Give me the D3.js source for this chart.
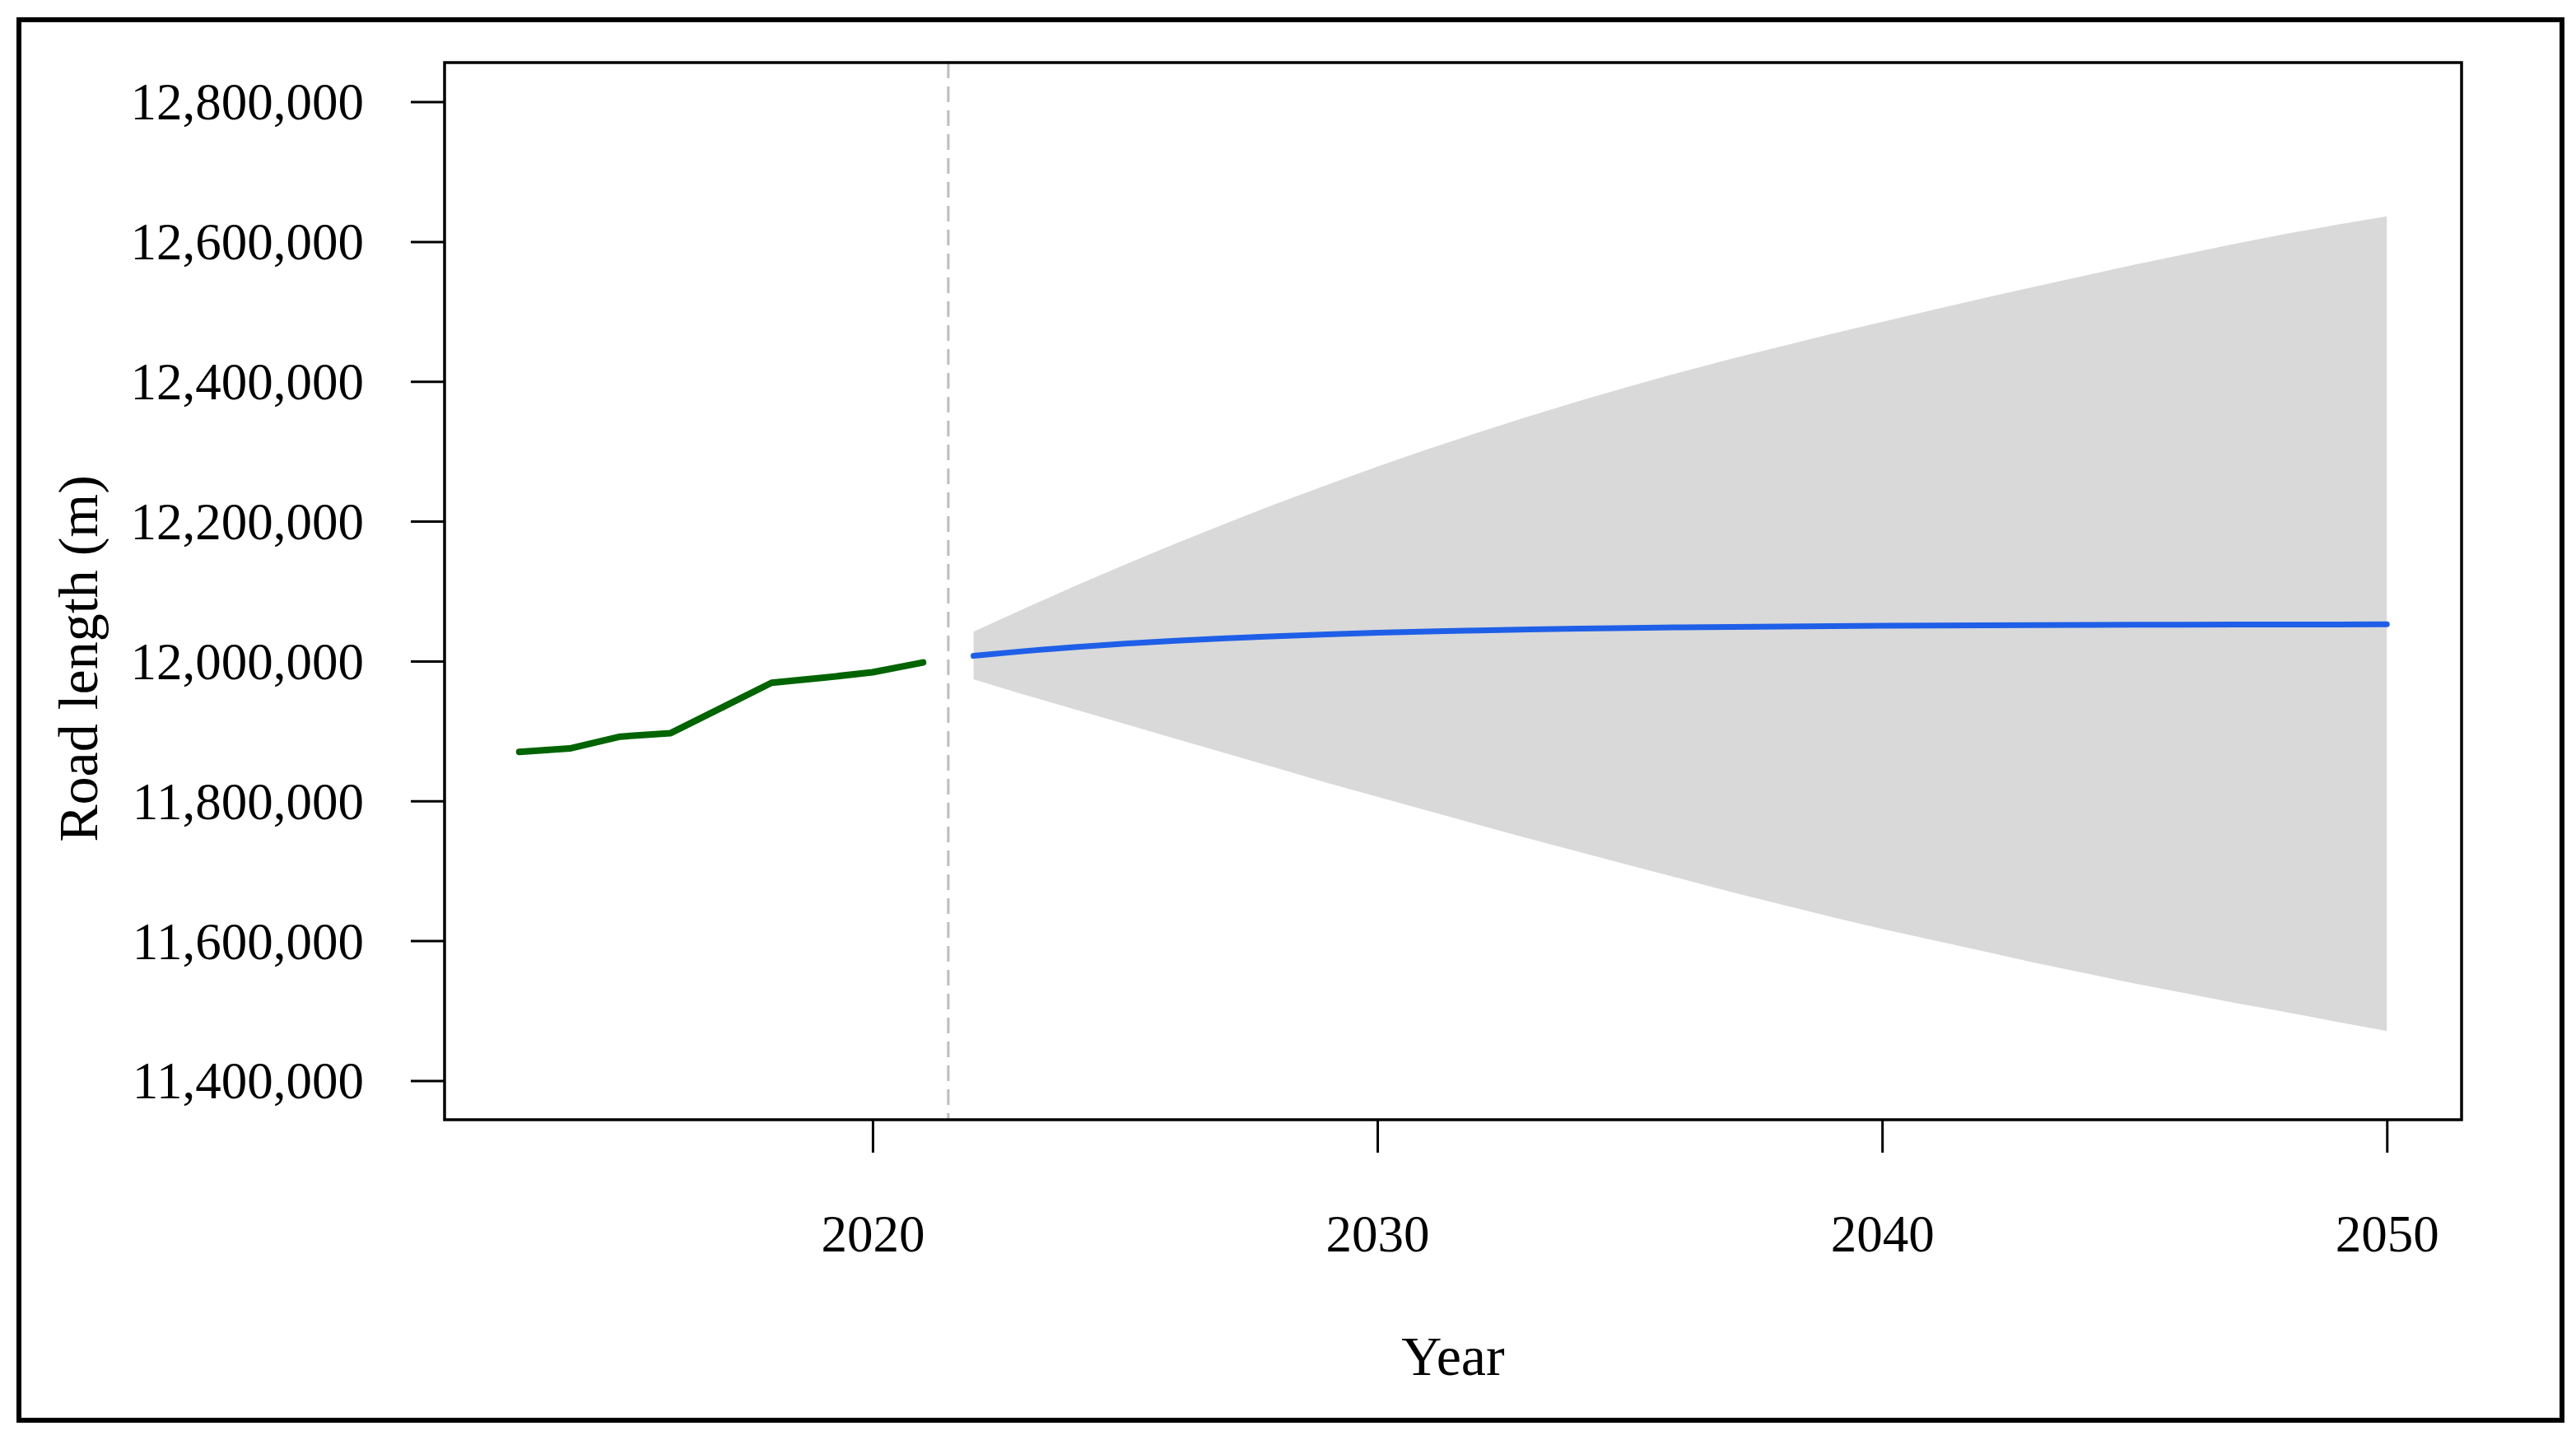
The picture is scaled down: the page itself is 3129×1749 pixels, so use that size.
<!DOCTYPE html>
<html>
<head>
<meta charset="utf-8">
<script src="https://cdn.jsdelivr.net/npm/d3@7"></script>
<style>
  html, body { margin: 0; padding: 0; background: #ffffff; }
  svg { display: block; }
  text { font-family: "Liberation Serif", "Times New Roman", serif; fill: #000; }
</style>
</head>
<body>
<svg id="chart" width="3129" height="1749"></svg>
<script>
// ---- data ----
const histYears = [2013, 2014, 2015, 2016, 2017, 2018, 2019, 2020, 2021];
const histValues = [11870000, 11875000, 11892000, 11897000, 11933000, 11969000, 11976000, 11984000, 11998000];

const fcYears = [2022, 2023, 2024, 2025, 2026, 2027, 2028, 2029, 2030, 2031, 2032, 2033, 2034, 2035, 2036,
                 2037, 2038, 2039, 2040, 2041, 2042, 2043, 2044, 2045, 2046, 2047, 2048, 2049, 2050];
const fcMean = [12007500, 12014200, 12020000, 12024800, 12029000, 12032600, 12035600, 12038200, 12040400,
                12042200, 12043800, 12045200, 12046300, 12047300, 12048200, 12048900, 12049500, 12050000,
                12050400, 12050800, 12051100, 12051400, 12051700, 12051900, 12052000, 12052200, 12052300,
                12052400, 12052500];
const fcUpper = [12042000, 12075000, 12107000, 12138000, 12168000, 12197000, 12225000, 12252000, 12278000,
                 12303000, 12327000, 12350000, 12372000, 12393000, 12413000, 12432000, 12450000, 12468000,
                 12485000, 12502000, 12519000, 12535000, 12551000, 12567000, 12582000, 12597000, 12611000,
                 12624000, 12636000];
const fcLower = [11974000, 11952000, 11931000, 11910000, 11889000, 11868000, 11847000, 11826000, 11806000,
                 11786000, 11766000, 11746000, 11727000, 11708000, 11689000, 11670000, 11652000, 11634000,
                 11617000, 11601000, 11585000, 11569000, 11554000, 11539000, 11525000, 11511000, 11498000,
                 11484000, 11471000];

const splitYear = 2021.5;
const xTicks = [2020, 2030, 2040, 2050];
const yTicks = [11400000, 11600000, 11800000, 12000000, 12200000, 12400000, 12600000, 12800000];
const xTitle = "Year";
const yTitle = "Road length (m)";

// ---- layout ----
const plot = { left: 540, top: 76, right: 2990, bottom: 1360 };
const svg = d3.select("#chart");

const xPad = (2050 - 2013) * 0.04;
const yPad = (12800000 - 11400000) * 0.04;
const x = d3.scaleLinear().domain([2013 - xPad, 2050 + xPad]).range([plot.left, plot.right]);
const y = d3.scaleLinear().domain([11400000 - yPad, 12800000 + yPad]).range([plot.bottom, plot.top]);

// outer frame
svg.append("rect")
  .attr("x", 23).attr("y", 24).attr("width", 3089).attr("height", 1701)
  .attr("fill", "none").attr("stroke", "#000").attr("stroke-width", 6);

// band
const fc = fcYears.map((yr, i) => ({ yr, m: fcMean[i], lo: fcLower[i], hi: fcUpper[i] }));
svg.append("path")
  .datum(fc)
  .attr("d", d3.area().x(d => x(d.yr)).y0(d => y(d.lo)).y1(d => y(d.hi)))
  .attr("fill", "#d9d9d9");

// split dashed line
svg.append("line")
  .attr("x1", x(splitYear)).attr("x2", x(splitYear))
  .attr("y1", plot.top).attr("y2", plot.bottom)
  .attr("stroke", "#bdbdbd").attr("stroke-width", 3)
  .attr("stroke-dasharray", "19,10");

// historical line
const hist = histYears.map((yr, i) => ({ yr, v: histValues[i] }));
svg.append("path")
  .datum(hist)
  .attr("d", d3.line().x(d => x(d.yr)).y(d => y(d.v)))
  .attr("fill", "none").attr("stroke", "#006400").attr("stroke-width", 8)
  .attr("stroke-linecap", "round").attr("stroke-linejoin", "round");

// forecast mean
svg.append("path")
  .datum(fc)
  .attr("d", d3.line().x(d => x(d.yr)).y(d => y(d.m)))
  .attr("fill", "none").attr("stroke", "#1f5fe8").attr("stroke-width", 7)
  .attr("stroke-linecap", "round").attr("stroke-linejoin", "round");

// plot box
svg.append("rect")
  .attr("x", plot.left).attr("y", plot.top)
  .attr("width", plot.right - plot.left).attr("height", plot.bottom - plot.top)
  .attr("fill", "none").attr("stroke", "#000").attr("stroke-width", 3.5);

// axes
const yAxis = svg.append("g")
  .attr("transform", `translate(${plot.left},0)`)
  .call(d3.axisLeft(y).tickValues(yTicks).tickFormat(d3.format(",")).tickSize(41).tickPadding(57));
const xAxis = svg.append("g")
  .attr("transform", `translate(0,${plot.bottom})`)
  .call(d3.axisBottom(x).tickValues(xTicks).tickFormat(d3.format("d")).tickSize(40).tickPadding(75));

[yAxis, xAxis].forEach(g => {
  g.select(".domain").remove();
  g.selectAll(".tick line").attr("stroke", "#000").attr("stroke-width", 3);
  g.selectAll(".tick text")
    .attr("font-family", "'Liberation Serif', 'Times New Roman', serif")
    .attr("font-size", 63).attr("fill", "#000");
});
yAxis.selectAll(".tick text").attr("dy", "0.34em");

// titles
svg.append("text")
  .attr("x", (plot.left + plot.right) / 2).attr("y", 1670)
  .attr("text-anchor", "middle").attr("font-size", 68)
  .text(xTitle);
svg.append("text")
  .attr("transform", "translate(118,800) rotate(-90)")
  .attr("text-anchor", "middle").attr("font-size", 68)
  .text(yTitle);
</script>
</body>
</html>
